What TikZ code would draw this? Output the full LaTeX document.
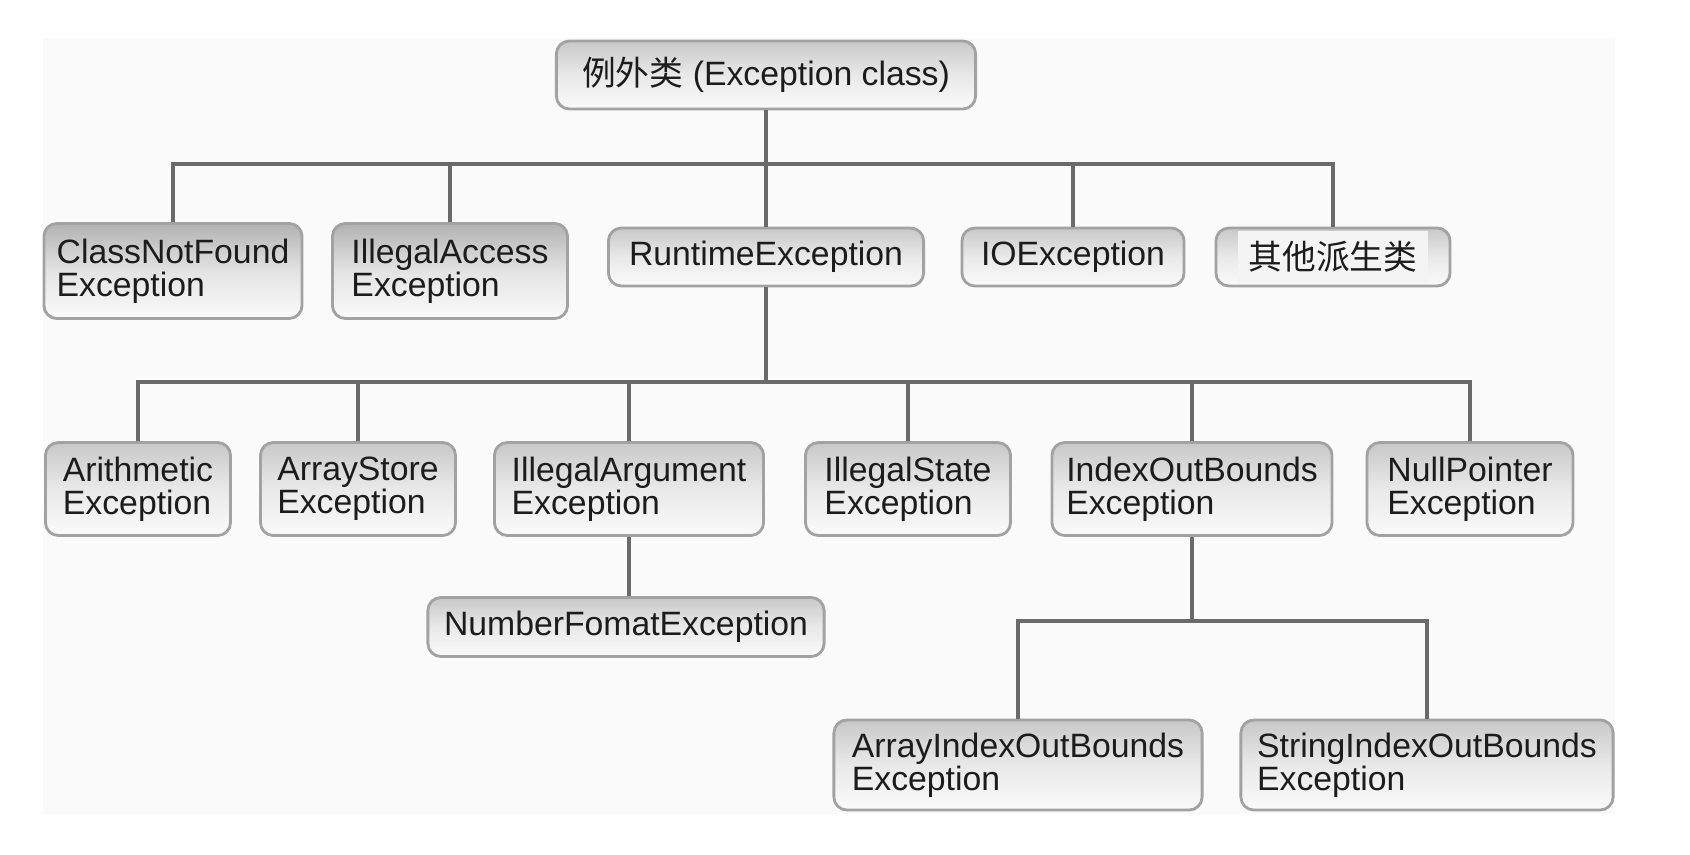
\documentclass[tikz,border=0pt]{standalone}
\usepackage{fontspec}
\setmainfont{Liberation Sans}
\newfontfamily\cjk{Noto Sans CJK SC}

\begin{document}
\begin{tikzpicture}[x=.01cm,y=-.01cm,line join=round,line cap=round,
    exbox/.style={draw=ecBordo,line width=.8pt,rounded corners=.13cm,
      top color=ecAlto,bottom color=ecBasso,middle color=ecMezzo,
      align=left,inner sep=0pt,minimum height=.58cm,text=ecTesto,
      font=\fontsize{9.6}{9.4}\selectfont},
    exboxscuro/.style={exbox,top color=ecAltoScuro,bottom color=ecBasso,
      middle color=ecMezzo!90!ecAltoScuro},
    ramo/.style={draw=ecRamo,line width=.95pt,line join=miter,line cap=butt}]
  \definecolor{ecSfondo}{HTML}{FAFAFA}
  \definecolor{ecBordo}{HTML}{A2A2A2}
  \definecolor{ecAlto}{HTML}{C8C8C8}
  \definecolor{ecAltoScuro}{HTML}{B2B2B2}
  \definecolor{ecMezzo}{HTML}{E9E9E9}
  \definecolor{ecBasso}{HTML}{FAFAFA}
  \definecolor{ecRiquadro}{HTML}{F4F4F4}
  \definecolor{ecRamo}{HTML}{6A6A6A}
  \definecolor{ecTesto}{HTML}{1C1C1C}
  \useasboundingbox (0,0) rectangle (1690,854);
  \fill[ecSfondo] (43,38) rectangle (1615,814);

  % Radice della gerarchia.
  \node[exbox,minimum width=4.19cm,minimum height=.68cm] (root) at (766,75)
    {{\cjk 例外类} (Exception class)};

  % Primo livello.
  \node[exboxscuro,minimum width=2.58cm,minimum height=.95cm] (cnf) at (173,271)
    {ClassNotFound\\Exception};
  \node[exboxscuro,minimum width=2.35cm,minimum height=.95cm] (iae) at (450,271)
    {IllegalAccess\\Exception};
  \node[exbox,minimum width=3.15cm] (rte) at (766,257) {RuntimeException};
  \node[exbox,minimum width=2.22cm] (ioe) at (1073,257) {IOException};
  \node[exbox,minimum width=2.34cm] (oth) at (1333,257)
    {\setlength\fboxsep{3pt}\colorbox{ecRiquadro}{\cjk 其他派生类}};

  % Secondo livello, sotto RuntimeException.
  \node[exbox,minimum width=1.85cm,minimum height=.93cm] (ari) at (138,489)
    {Arithmetic\\Exception};
  \node[exbox,minimum width=1.95cm,minimum height=.93cm] (ase) at (358,489)
    {ArrayStore\\Exception};
  \node[exbox,minimum width=2.69cm,minimum height=.93cm] (iarg) at (629,489)
    {IllegalArgument\\Exception};
  \node[exbox,minimum width=2.05cm,minimum height=.93cm] (ise) at (908,489)
    {IllegalState\\Exception};
  \node[exbox,minimum width=2.80cm,minimum height=.93cm] (iob) at (1192,489)
    {IndexOutBounds\\Exception};
  \node[exbox,minimum width=2.06cm,minimum height=.93cm] (npe) at (1470,489)
    {NullPointer\\Exception};

  % Terzo livello.
  \node[exbox,minimum width=3.96cm,minimum height=.59cm] (nfe) at (626,627)
    {NumberFomatException};
  \node[exbox,minimum width=3.68cm,minimum height=.90cm] (aiob) at (1018,765)
    {ArrayIndexOutBounds\\Exception};
  \node[exbox,minimum width=3.72cm,minimum height=.90cm] (siob) at (1427,765)
    {StringIndexOutBounds\\Exception};

  % Rami ad angolo retto.
  \coordinate (bus1) at (0,164);
  \coordinate (bus2) at (0,382);
  \coordinate (bus3) at (0,621);
  \foreach \figlio in {cnf,iae,rte,ioe,oth}
    \draw[ramo] (root.south) |- (bus1 -| \figlio.north) -- (\figlio.north);
  \foreach \figlio in {ari,ase,iarg,ise,iob,npe}
    \draw[ramo] (rte.south) |- (bus2 -| \figlio.north) -- (\figlio.north);
  \foreach \figlio in {aiob,siob}
    \draw[ramo] (iob.south) |- (bus3 -| \figlio.north) -- (\figlio.north);
  \draw[ramo] (iarg.south) -- (iarg.south |- nfe.north);
\end{tikzpicture}
\end{document}
